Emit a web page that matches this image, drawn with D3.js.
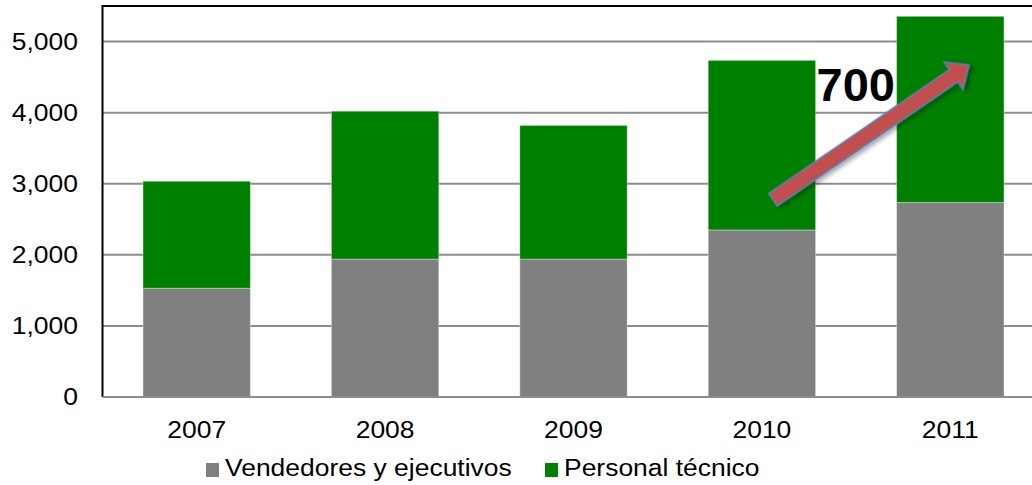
<!DOCTYPE html>
<html><head><meta charset="utf-8">
<script src="https://cdn.jsdelivr.net/npm/d3@7"></script>
<style>html,body{margin:0;padding:0;background:#fff;overflow:hidden}</style>
</head><body>
<svg id="c" width="1032" height="485"></svg>
<script>
const years = ["2007","2008","2009","2010","2011"];
const seriesNames = ["Vendedores y ejecutivos","Personal técnico"];
const vendedores = [1530, 1940, 1940, 2350, 2735];
const tecnico = [1505, 2080, 1880, 2385, 2620];
const yTicks = [0,1000,2000,3000,4000,5000];
const colors = ["#808080","#008000"];
const annotationText = "700";
const arrowFrom = {year:"2010", frac:0.603, value:2775};
const arrowTo = {year:"2011", frac:0.676, value:4670};

(function(){
const STRETCH = 1.15;
const svg = d3.select("#c");
const pLeft = 102.5, pRight = 1044.5, pTop = 6, pBottom = 397;
const x = d3.scaleBand().domain(years).range([pLeft,pRight]).paddingInner(0.43).paddingOuter(0.215);
const y = d3.scaleLinear().domain([0,5500]).range([pBottom,pTop]);

const defs = svg.append("defs");
const f = defs.append("filter").attr("id","sh").attr("x","-20%").attr("y","-20%").attr("width","150%").attr("height","150%");
f.append("feDropShadow").attr("dx",2).attr("dy",3).attr("stdDeviation",2.5).attr("flood-color","#000").attr("flood-opacity",0.4);

function stretch(sel){
  sel.each(function(){ const l=this.getComputedTextLength(); d3.select(this).attr("textLength", l*STRETCH).attr("lengthAdjust","spacingAndGlyphs"); });
}

// gridlines
svg.append("g").selectAll("line").data(yTicks.filter(d=>d>0)).join("line")
  .attr("x1",pLeft).attr("x2",1032).attr("y1",d=>y(d)).attr("y2",d=>y(d))
  .attr("stroke","#8c8c8c").attr("stroke-width",2);

// stacked bars
const rows = years.map((yr,i)=>({year:yr, a:vendedores[i], b:tecnico[i]}));
const stack = d3.stack().keys(["a","b"])(rows);
svg.append("g").selectAll("g").data(stack).join("g").attr("fill",(d,i)=>colors[i])
  .selectAll("rect").data(d=>d).join("rect")
  .attr("x",d=>x(d.data.year)).attr("width",x.bandwidth())
  .attr("y",d=>y(d[1])).attr("height",d=>y(d[0])-y(d[1]))
  .attr("stroke","rgba(255,255,255,0.35)").attr("stroke-width",1);

// axes lines
svg.append("line").attr("x1",pLeft).attr("x2",1032).attr("y1",pTop).attr("y2",pTop).attr("stroke","#000").attr("stroke-width",2);
svg.append("line").attr("x1",pLeft).attr("x2",pLeft).attr("y1",pTop-1).attr("y2",pBottom).attr("stroke","#000").attr("stroke-width",2);
svg.append("line").attr("x1",pLeft).attr("x2",1032).attr("y1",pBottom).attr("y2",pBottom).attr("stroke","#8c8c8c").attr("stroke-width",2);

// y labels
svg.append("g").selectAll("text").data(yTicks).join("text")
  .attr("x",78).attr("y",d=>y(d)+8.3).attr("text-anchor","end")
  .attr("font-family","Liberation Sans, Arial, sans-serif").attr("font-size",23).attr("fill","#000")
  .text(d=>d3.format(",")(d)).call(stretch);

// x labels
svg.append("g").selectAll("text").data(years).join("text")
  .attr("x",d=>x(d)+x.bandwidth()/2).attr("y",438).attr("text-anchor","middle")
  .attr("font-family","Liberation Sans, Arial, sans-serif").attr("font-size",23).attr("fill","#000")
  .text(d=>d).call(stretch);

// legend
const legX = [206, 545];
const lg = svg.append("g");
seriesNames.forEach((n,i)=>{
  lg.append("rect").attr("x",legX[i]).attr("y",463).attr("width",13).attr("height",14).attr("fill",colors[i]);
  lg.append("text").attr("x",legX[i]+19).attr("y",476)
    .attr("font-family","Liberation Sans, Arial, sans-serif").attr("font-size",23).attr("fill","#000")
    .text(n).call(stretch);
});

// annotation text
svg.append("text").attr("x",x("2010")+x.bandwidth()+1).attr("y",y(4165))
  .attr("font-family","Liberation Sans, Arial, sans-serif").attr("font-weight","bold").attr("font-size",47).attr("fill","#000")
  .text(annotationText);

// arrow
const x0 = x(arrowFrom.year)+x.bandwidth()*arrowFrom.frac, y0 = y(arrowFrom.value);
const x1 = x(arrowTo.year)+x.bandwidth()*arrowTo.frac, y1 = y(arrowTo.value);
const len = Math.hypot(x1-x0,y1-y0), ang = Math.atan2(y1-y0,x1-x0)*180/Math.PI;
const sw = 7.5, hw = 16.5, hl = 19;
const pts = [[0,-sw],[len-hl,-sw],[len-hl,-hw],[len,0],[len-hl,hw],[len-hl,sw],[0,sw]];
svg.append("path").attr("d","M"+pts.map(p=>p.join(",")).join("L")+"Z")
  .attr("transform",`translate(${x0},${y0}) rotate(${ang})`)
  .attr("fill","#C0504D").attr("stroke","#4F81BD").attr("stroke-width",1.5).attr("stroke-linejoin","miter")
  .attr("filter","url(#sh)");
})();
</script>
</body></html>
